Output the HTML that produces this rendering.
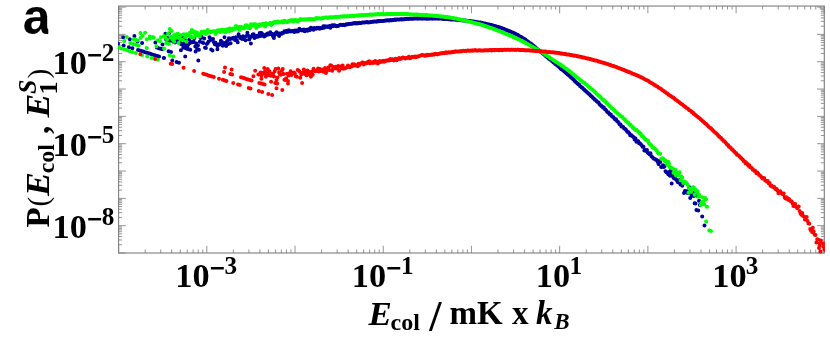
<!DOCTYPE html>
<html><head><meta charset="utf-8"><title>Collision energy distribution</title>
<style>html,body{margin:0;padding:0;background:#fff;}body{width:830px;height:342px;overflow:hidden;font-family:"Liberation Serif",serif;}svg text{fill:#000;}</style></head>
<body>
<svg width="830" height="342" viewBox="0 0 830 342" style="display:block;will-change:transform"><path d="M118.60 253.00v-7.20M118.60 6.05v7.20M145.15 253.00v-3.50M145.15 6.05v3.50M160.69 253.00v-3.50M160.69 6.05v3.50M171.71 253.00v-3.50M171.71 6.05v3.50M180.26 253.00v-3.50M180.26 6.05v3.50M187.24 253.00v-3.50M187.24 6.05v3.50M193.15 253.00v-3.50M193.15 6.05v3.50M198.26 253.00v-3.50M198.26 6.05v3.50M202.78 253.00v-3.50M202.78 6.05v3.50M206.81 253.00v-7.20M206.81 6.05v7.20M233.37 253.00v-3.50M233.37 6.05v3.50M248.90 253.00v-3.50M248.90 6.05v3.50M259.92 253.00v-3.50M259.92 6.05v3.50M268.47 253.00v-3.50M268.47 6.05v3.50M275.46 253.00v-3.50M275.46 6.05v3.50M281.36 253.00v-3.50M281.36 6.05v3.50M286.48 253.00v-3.50M286.48 6.05v3.50M290.99 253.00v-3.50M290.99 6.05v3.50M295.02 253.00v-7.20M295.02 6.05v7.20M321.58 253.00v-3.50M321.58 6.05v3.50M337.11 253.00v-3.50M337.11 6.05v3.50M348.13 253.00v-3.50M348.13 6.05v3.50M356.68 253.00v-3.50M356.68 6.05v3.50M363.67 253.00v-3.50M363.67 6.05v3.50M369.57 253.00v-3.50M369.57 6.05v3.50M374.69 253.00v-3.50M374.69 6.05v3.50M379.20 253.00v-3.50M379.20 6.05v3.50M383.24 253.00v-7.20M383.24 6.05v7.20M409.79 253.00v-3.50M409.79 6.05v3.50M425.33 253.00v-3.50M425.33 6.05v3.50M436.35 253.00v-3.50M436.35 6.05v3.50M444.90 253.00v-3.50M444.90 6.05v3.50M451.88 253.00v-3.50M451.88 6.05v3.50M457.79 253.00v-3.50M457.79 6.05v3.50M462.90 253.00v-3.50M462.90 6.05v3.50M467.41 253.00v-3.50M467.41 6.05v3.50M471.45 253.00v-7.20M471.45 6.05v7.20M498.00 253.00v-3.50M498.00 6.05v3.50M513.54 253.00v-3.50M513.54 6.05v3.50M524.56 253.00v-3.50M524.56 6.05v3.50M533.11 253.00v-3.50M533.11 6.05v3.50M540.09 253.00v-3.50M540.09 6.05v3.50M546.00 253.00v-3.50M546.00 6.05v3.50M551.11 253.00v-3.50M551.11 6.05v3.50M555.63 253.00v-3.50M555.63 6.05v3.50M559.66 253.00v-7.20M559.66 6.05v7.20M586.22 253.00v-3.50M586.22 6.05v3.50M601.75 253.00v-3.50M601.75 6.05v3.50M612.77 253.00v-3.50M612.77 6.05v3.50M621.32 253.00v-3.50M621.32 6.05v3.50M628.31 253.00v-3.50M628.31 6.05v3.50M634.21 253.00v-3.50M634.21 6.05v3.50M639.33 253.00v-3.50M639.33 6.05v3.50M643.84 253.00v-3.50M643.84 6.05v3.50M647.88 253.00v-7.20M647.88 6.05v7.20M674.43 253.00v-3.50M674.43 6.05v3.50M689.96 253.00v-3.50M689.96 6.05v3.50M700.98 253.00v-3.50M700.98 6.05v3.50M709.53 253.00v-3.50M709.53 6.05v3.50M716.52 253.00v-3.50M716.52 6.05v3.50M722.42 253.00v-3.50M722.42 6.05v3.50M727.54 253.00v-3.50M727.54 6.05v3.50M732.05 253.00v-3.50M732.05 6.05v3.50M736.09 253.00v-7.20M736.09 6.05v7.20M762.64 253.00v-3.50M762.64 6.05v3.50M778.18 253.00v-3.50M778.18 6.05v3.50M789.20 253.00v-3.50M789.20 6.05v3.50M797.75 253.00v-3.50M797.75 6.05v3.50M804.73 253.00v-3.50M804.73 6.05v3.50M810.64 253.00v-3.50M810.64 6.05v3.50M815.75 253.00v-3.50M815.75 6.05v3.50M820.26 253.00v-3.50M820.26 6.05v3.50M824.30 253.00v-7.20M824.30 6.05v7.20M118.60 253.00h7.20M824.30 253.00h-7.20M118.60 244.77h3.50M824.30 244.77h-3.50M118.60 239.96h3.50M824.30 239.96h-3.50M118.60 236.55h3.50M824.30 236.55h-3.50M118.60 233.90h3.50M824.30 233.90h-3.50M118.60 231.74h3.50M824.30 231.74h-3.50M118.60 229.91h3.50M824.30 229.91h-3.50M118.60 228.32h3.50M824.30 228.32h-3.50M118.60 226.92h3.50M824.30 226.92h-3.50M118.60 225.67h7.20M824.30 225.67h-7.20M118.60 217.45h3.50M824.30 217.45h-3.50M118.60 212.64h3.50M824.30 212.64h-3.50M118.60 209.22h3.50M824.30 209.22h-3.50M118.60 206.57h3.50M824.30 206.57h-3.50M118.60 204.41h3.50M824.30 204.41h-3.50M118.60 202.58h3.50M824.30 202.58h-3.50M118.60 200.99h3.50M824.30 200.99h-3.50M118.60 199.60h3.50M824.30 199.60h-3.50M118.60 198.35h7.20M824.30 198.35h-7.20M118.60 190.12h3.50M824.30 190.12h-3.50M118.60 185.31h3.50M824.30 185.31h-3.50M118.60 181.89h3.50M824.30 181.89h-3.50M118.60 179.25h3.50M824.30 179.25h-3.50M118.60 177.08h3.50M824.30 177.08h-3.50M118.60 175.25h3.50M824.30 175.25h-3.50M118.60 173.67h3.50M824.30 173.67h-3.50M118.60 172.27h3.50M824.30 172.27h-3.50M118.60 171.02h7.20M824.30 171.02h-7.20M118.60 162.79h3.50M824.30 162.79h-3.50M118.60 157.98h3.50M824.30 157.98h-3.50M118.60 154.57h3.50M824.30 154.57h-3.50M118.60 151.92h3.50M824.30 151.92h-3.50M118.60 149.76h3.50M824.30 149.76h-3.50M118.60 147.93h3.50M824.30 147.93h-3.50M118.60 146.34h3.50M824.30 146.34h-3.50M118.60 144.94h3.50M824.30 144.94h-3.50M118.60 143.69h7.20M824.30 143.69h-7.20M118.60 135.47h3.50M824.30 135.47h-3.50M118.60 130.66h3.50M824.30 130.66h-3.50M118.60 127.24h3.50M824.30 127.24h-3.50M118.60 124.59h3.50M824.30 124.59h-3.50M118.60 122.43h3.50M824.30 122.43h-3.50M118.60 120.60h3.50M824.30 120.60h-3.50M118.60 119.01h3.50M824.30 119.01h-3.50M118.60 117.62h3.50M824.30 117.62h-3.50M118.60 116.37h7.20M824.30 116.37h-7.20M118.60 108.14h3.50M824.30 108.14h-3.50M118.60 103.33h3.50M824.30 103.33h-3.50M118.60 99.91h3.50M824.30 99.91h-3.50M118.60 97.27h3.50M824.30 97.27h-3.50M118.60 95.10h3.50M824.30 95.10h-3.50M118.60 93.27h3.50M824.30 93.27h-3.50M118.60 91.69h3.50M824.30 91.69h-3.50M118.60 90.29h3.50M824.30 90.29h-3.50M118.60 89.04h7.20M824.30 89.04h-7.20M118.60 80.81h3.50M824.30 80.81h-3.50M118.60 76.00h3.50M824.30 76.00h-3.50M118.60 72.59h3.50M824.30 72.59h-3.50M118.60 69.94h3.50M824.30 69.94h-3.50M118.60 67.78h3.50M824.30 67.78h-3.50M118.60 65.95h3.50M824.30 65.95h-3.50M118.60 64.36h3.50M824.30 64.36h-3.50M118.60 62.96h3.50M824.30 62.96h-3.50M118.60 61.71h7.20M824.30 61.71h-7.20M118.60 53.49h3.50M824.30 53.49h-3.50M118.60 48.68h3.50M824.30 48.68h-3.50M118.60 45.26h3.50M824.30 45.26h-3.50M118.60 42.61h3.50M824.30 42.61h-3.50M118.60 40.45h3.50M824.30 40.45h-3.50M118.60 38.62h3.50M824.30 38.62h-3.50M118.60 37.03h3.50M824.30 37.03h-3.50M118.60 35.64h3.50M824.30 35.64h-3.50M118.60 34.39h7.20M824.30 34.39h-7.20M118.60 26.16h3.50M824.30 26.16h-3.50M118.60 21.35h3.50M824.30 21.35h-3.50M118.60 17.93h3.50M824.30 17.93h-3.50M118.60 15.29h3.50M824.30 15.29h-3.50M118.60 13.12h3.50M824.30 13.12h-3.50M118.60 11.29h3.50M824.30 11.29h-3.50M118.60 9.71h3.50M824.30 9.71h-3.50M118.60 8.31h3.50M824.30 8.31h-3.50M118.60 7.06h7.20M824.30 7.06h-7.20" stroke="#707070" stroke-width="0.75" fill="none"/>
<rect x="118.60" y="6.05" width="705.70" height="246.95" fill="none" stroke="#7e7e7e" stroke-width="1.1"/>
<clipPath id="c"><rect x="118.1" y="6.05" width="706.8" height="247.64999999999998"/></clipPath>
<g clip-path="url(#c)">
<path d="M165.4 33.8h0M166.2 39.7h0M167.1 37.8h0M168.0 40.2h0M168.9 33.5h0M169.8 40.7h0M170.6 38.9h0M171.5 37.3h0M172.4 39.4h0M173.3 41.8h0M174.2 36.5h0M175.1 42.4h0M175.9 37.1h0M176.8 40.8h0M177.7 39.2h0M178.6 39.5h0M179.5 36.8h0M180.3 41.9h0M181.2 44.3h0M182.1 36.3h0M183.0 44.8h0M183.9 43.0h0M184.8 39.8h0M185.6 45.7h0M186.5 43.8h0M187.4 46.2h0M188.3 44.3h0M189.2 39.8h0M190.1 43.0h0M190.9 36.9h0M191.8 42.0h0M192.7 42.3h0M193.6 41.2h0M194.5 38.0h0M195.3 46.5h0M196.2 43.4h0M197.1 49.2h0M198.0 45.5h0M198.9 49.8h0M199.8 41.8h0M200.6 38.1h0M201.5 36.8h0M202.4 42.6h0M203.3 42.9h0M204.2 38.4h0M205.0 47.7h0M205.9 48.0h0M206.8 44.0h0M207.7 43.1h0M208.6 41.4h0M209.5 37.2h0M210.3 40.3h0M211.2 49.6h0M212.1 39.3h0M213.0 38.9h0M213.9 42.2h0M214.8 44.3h0M215.6 42.7h0M216.5 44.8h0M217.4 46.1h0M218.3 44.4h0M219.2 44.7h0M220.0 44.1h0M220.9 40.8h0M221.8 41.7h0M222.7 45.8h0M223.6 43.6h0M224.5 37.2h0M225.3 42.8h0M226.2 46.0h0M227.1 40.9h0M228.0 44.3h0M228.9 38.2h0M229.7 39.3h0M230.6 43.2h0M231.5 38.6h0M232.4 38.5h0M233.3 37.7h0M234.2 38.3h0M235.0 40.1h0M235.9 37.2h0M236.8 40.3h0M237.7 42.2h0M238.6 34.3h0M239.5 36.5h0M240.3 37.9h0M241.2 37.9h0M242.1 39.1h0M243.0 36.3h0M243.9 38.4h0M244.7 39.6h0M245.6 40.2h0M246.5 36.1h0M247.4 32.7h0M248.3 35.8h0M249.2 39.5h0M250.0 38.1h0M250.9 43.5h0M251.8 36.1h0M252.7 34.5h0M253.6 34.3h0M254.4 38.1h0M255.3 36.8h0M256.2 36.9h0M257.1 35.7h0M258.0 36.8h0M258.9 35.9h0M259.7 33.1h0M260.6 36.1h0M261.5 33.0h0M262.4 34.0h0M263.3 35.8h0M264.2 36.6h0M265.0 35.1h0M265.9 35.6h0M266.8 34.1h0M267.7 33.6h0M268.6 34.6h0M269.4 34.2h0M270.3 32.2h0M271.2 34.0h0M272.1 33.8h0M273.0 36.3h0M273.9 37.9h0M274.7 35.0h0M275.6 33.3h0M276.5 32.2h0M277.4 33.9h0M278.3 33.6h0M279.1 36.0h0M280.0 33.5h0M280.9 33.8h0M281.8 33.8h0M282.7 32.7h0M283.6 32.8h0M284.4 31.3h0M285.3 31.2h0M286.2 32.0h0M287.1 30.7h0M288.0 31.8h0M288.9 30.2h0M289.7 31.3h0M290.6 31.6h0M291.5 31.3h0M292.4 31.0h0M293.3 31.3h0M294.1 32.1h0M295.0 30.6h0M295.9 31.5h0M296.8 30.6h0M297.7 31.5h0M298.6 30.7h0M299.4 28.7h0M300.3 30.1h0M301.2 30.1h0M302.1 30.6h0M303.0 29.9h0M303.8 29.5h0M304.7 31.2h0M305.6 30.1h0M306.5 29.8h0M307.4 30.8h0M308.3 30.6h0M309.1 28.9h0M310.0 30.1h0M310.9 27.7h0M311.8 28.6h0M312.7 28.6h0M313.5 29.7h0M314.4 28.0h0M315.3 28.4h0M316.2 28.8h0M317.1 27.7h0M318.0 28.3h0M318.8 27.8h0M319.7 28.8h0M320.6 27.9h0M321.5 28.1h0M322.4 28.0h0M323.3 26.3h0M324.1 27.8h0M325.0 26.3h0M325.9 26.8h0M326.8 26.6h0M327.7 27.0h0M328.5 26.4h0M329.4 25.9h0M330.3 27.7h0M331.2 26.1h0M332.1 25.2h0M333.0 26.2h0M333.8 25.3h0M334.7 25.3h0M335.6 26.0h0M336.5 26.2h0M337.4 26.0h0M338.2 26.0h0M339.1 25.6h0M340.0 24.9h0M340.9 24.8h0M341.8 24.9h0M342.7 25.1h0M343.5 24.8h0M344.4 25.2h0M345.3 24.9h0M346.2 24.2h0M347.1 24.2h0M348.0 24.3h0M348.8 24.1h0M349.7 23.9h0M350.6 23.7h0M351.5 23.8h0M352.4 23.7h0M353.2 23.5h0M354.1 23.1h0M355.0 23.5h0M355.9 23.1h0M356.8 23.5h0M357.7 23.0h0M358.5 23.2h0M359.4 22.8h0M360.3 22.9h0M361.2 23.0h0M362.1 22.4h0M362.9 22.5h0M363.8 22.5h0M364.7 22.6h0M365.6 22.3h0M366.5 22.2h0M367.4 22.0h0M368.2 22.4h0M369.1 22.2h0M370.0 22.2h0M370.9 21.9h0M371.8 22.0h0M372.7 21.8h0M373.5 21.8h0M374.4 21.6h0M375.3 21.4h0M376.2 21.7h0M377.1 21.4h0M377.9 21.1h0M378.8 21.2h0M379.7 21.1h0M380.6 20.9h0M381.5 21.0h0M382.4 21.0h0M383.2 21.0h0M384.1 20.8h0M385.0 20.8h0M385.9 20.6h0M386.8 20.6h0M387.6 20.3h0M388.5 20.5h0M389.4 20.5h0M390.3 20.1h0M391.2 20.3h0M392.1 20.2h0M392.9 19.9h0M393.8 20.1h0M394.7 19.6h0M395.6 19.9h0M396.5 19.5h0M397.4 19.5h0M398.2 19.6h0M399.1 19.6h0M400.0 19.6h0M400.9 19.3h0M401.8 19.5h0M402.6 19.2h0M403.5 19.2h0M404.4 19.2h0M405.3 19.0h0M406.2 19.1h0M407.1 18.9h0M407.9 18.7h0M408.8 19.0h0M409.7 18.8h0M410.6 18.7h0M411.5 18.8h0M412.3 18.8h0M413.2 18.7h0M414.1 18.6h0M415.0 18.6h0M415.9 18.6h0M416.8 18.5h0M417.6 18.7h0M418.5 18.5h0M419.4 18.6h0M420.3 18.6h0M421.2 18.6h0M422.1 18.7h0M422.9 18.4h0M423.8 18.6h0M424.7 18.6h0M425.6 18.4h0M426.5 18.7h0M427.3 18.7h0M428.2 18.5h0M429.1 18.7h0M430.0 18.6h0M430.9 18.6h0M431.8 18.5h0M432.6 18.7h0M433.5 18.5h0M434.4 18.6h0M435.3 18.6h0M436.2 18.6h0M437.0 18.6h0M437.9 18.6h0M438.8 18.8h0M439.7 18.6h0M440.6 18.6h0M441.5 18.7h0M442.3 18.7h0M443.2 18.9h0M444.1 19.0h0M445.0 19.0h0M445.9 18.9h0M446.8 19.1h0M447.6 19.1h0M448.5 19.2h0M449.4 19.2h0M450.3 19.4h0M451.2 19.4h0M452.0 19.4h0M452.9 19.6h0M453.8 19.6h0M454.7 19.6h0M455.6 19.7h0M456.5 19.8h0M457.3 19.9h0M458.2 20.0h0M459.1 20.0h0M460.0 20.1h0M460.9 20.2h0M461.7 20.2h0M462.6 20.4h0M463.5 20.5h0M464.4 20.6h0M465.3 20.6h0M466.2 20.8h0M467.0 20.8h0M467.9 20.9h0M468.8 21.0h0M469.7 21.1h0M470.6 21.2h0M471.5 21.3h0M472.3 21.5h0M473.2 21.6h0M474.1 21.7h0M475.0 21.8h0M475.9 21.9h0M476.7 22.2h0M477.6 22.2h0M478.5 22.5h0M479.4 22.6h0M480.3 22.6h0M481.2 22.8h0M482.0 23.0h0M482.9 23.3h0M483.8 23.4h0M484.7 23.6h0M485.6 23.8h0M486.4 23.9h0M487.3 24.2h0M488.2 24.4h0M489.1 24.6h0M490.0 24.7h0M490.9 25.1h0M491.7 25.2h0M492.6 25.5h0M493.5 25.7h0M494.4 25.9h0M495.3 26.2h0M496.1 26.5h0M497.0 26.7h0M497.9 27.0h0M498.8 27.2h0M499.7 27.4h0M500.6 27.8h0M501.4 28.1h0M502.3 28.4h0M503.2 28.7h0M504.1 29.1h0M505.0 29.5h0M505.9 29.9h0M506.7 30.1h0M507.6 30.5h0M508.5 30.9h0M509.4 31.3h0M510.3 31.6h0M511.1 31.9h0M512.0 32.2h0M512.9 32.7h0M513.8 33.1h0M514.7 33.5h0M515.6 34.0h0M516.4 34.4h0M517.3 34.8h0M518.2 35.3h0M519.1 35.9h0M520.0 36.4h0M520.8 36.9h0M521.7 37.3h0M522.6 37.9h0M523.5 38.5h0M524.4 39.0h0M525.3 39.6h0M526.1 40.3h0M527.0 40.9h0M527.9 41.4h0M528.8 42.2h0M529.7 42.9h0M530.6 43.6h0M531.4 44.1h0M532.3 44.7h0M533.2 45.4h0M534.1 46.2h0M535.0 46.9h0M535.8 47.7h0M536.7 48.4h0M537.6 49.2h0M538.5 50.0h0M539.4 50.7h0M540.3 51.5h0M541.1 52.1h0M542.0 52.8h0M542.9 53.6h0M543.8 54.3h0M544.7 55.0h0M545.5 55.8h0M546.4 56.5h0M547.3 57.3h0M548.2 58.0h0M549.1 58.9h0M550.0 59.4h0M550.8 60.1h0M551.7 60.8h0M552.6 61.6h0M553.5 62.4h0M554.4 63.0h0M555.3 63.9h0M556.1 64.6h0M557.0 65.3h0M557.9 66.1h0M558.8 66.7h0M559.7 67.5h0M560.5 68.5h0M561.4 69.3h0M562.3 69.8h0M563.2 70.4h0M564.1 71.2h0M565.0 72.0h0M565.8 72.7h0M566.7 73.5h0M567.6 74.5h0M568.5 75.0h0M569.4 75.8h0M570.2 76.6h0M571.1 77.4h0M572.0 78.2h0M572.9 79.0h0M573.8 79.7h0M574.7 81.1h0M575.5 81.7h0M576.4 82.5h0M577.3 83.2h0M578.2 84.3h0M579.1 84.5h0M580.0 86.1h0M580.8 86.6h0M581.7 87.6h0M582.6 88.1h0M583.5 89.1h0M584.4 89.7h0M585.2 90.7h0M586.1 91.2h0M587.0 92.3h0M587.9 93.1h0M588.8 93.7h0M589.7 94.5h0M590.5 95.5h0M591.4 96.2h0M592.3 97.1h0M593.2 98.0h0M594.1 98.7h0M594.9 99.8h0M595.8 100.3h0M596.7 101.3h0M597.6 102.0h0M598.5 102.4h0M599.4 103.9h0M600.2 105.0h0M601.1 105.4h0M602.0 106.4h0M602.9 107.5h0M603.8 107.5h0M604.7 108.9h0M605.5 109.6h0M606.4 110.7h0M607.3 112.0h0M608.2 112.2h0M609.1 113.5h0M609.9 114.6h0M610.8 114.6h0M611.7 116.1h0M612.6 116.8h0M613.5 117.2h0M614.4 118.8h0M615.2 119.5h0M616.1 119.3h0M617.0 120.9h0M617.9 121.7h0M618.8 122.9h0M619.6 124.3h0M620.5 124.6h0M621.4 126.5h0M622.3 126.4h0M623.2 127.1h0M624.1 128.5h0M624.9 128.8h0M625.8 129.6h0M626.7 131.1h0M627.6 132.0h0M628.5 132.2h0M629.4 133.5h0M630.2 135.3h0M631.1 135.0h0M632.0 136.0h0M632.9 136.4h0M633.8 137.5h0M634.6 139.4h0M635.5 138.4h0M636.4 141.8h0M637.3 140.9h0M638.2 141.2h0M639.1 143.3h0M639.9 143.3h0M640.8 144.3h0M641.7 145.2h0M642.6 146.7h0M643.5 146.7h0M644.3 150.5h0M645.2 150.0h0M646.1 151.1h0M647.0 149.9h0M647.9 152.7h0M648.8 153.5h0M649.6 154.3h0M650.5 153.2h0M651.4 156.3h0M652.3 156.9h0M653.2 157.9h0M654.0 158.8h0M654.9 158.9h0M655.8 159.7h0M656.7 159.9h0M657.6 161.8h0M658.5 163.9h0M659.3 161.1h0M660.2 162.1h0M661.1 166.9h0M662.0 166.9h0M662.9 165.3h0M663.8 166.9h0M664.6 166.3h0M665.5 171.2h0M666.4 172.2h0M667.3 172.8h0M668.2 174.3h0M669.0 172.0h0M669.9 175.7h0M670.8 170.7h0M671.7 172.5h0M672.6 176.1h0M673.5 177.7h0M674.3 178.4h0M675.2 178.2h0M676.1 179.5h0M677.0 180.8h0M677.9 182.3h0M678.7 182.6h0M679.6 180.1h0M680.5 184.4h0M681.4 183.4h0M682.3 185.7h0M683.2 183.3h0M684.0 193.1h0M684.9 191.0h0M685.8 191.3h0M686.7 191.5h0M687.6 192.9h0M688.5 191.0h0M689.3 187.2h0M690.2 198.0h0M691.1 194.0h0M692.0 195.5h0M692.9 192.4h0M693.7 196.1h0M694.6 203.3h0M695.5 203.6h0M696.4 210.0h0M697.3 195.9h0M698.2 210.5h0M699.0 200.7h0M699.9 205.0h0M118.0 43.8h0M123.7 45.6h0M128.8 47.2h0M132.4 48.3h0M138.0 50.0h0M139.8 50.6h0M141.5 51.1h0M143.3 51.6h0M145.0 52.2h0M146.8 52.7h0M148.6 53.3h0M150.3 53.8h0M152.1 54.4h0M153.8 54.9h0M155.6 55.5h0M157.4 56.0h0M159.1 56.6h0M164.1 58.1h0M163.7 58.0h0M172.3 60.6h0M176.6 62.0h0M179.0 62.7h0M704.5 225.5h0M123.2 37.2h0M129.8 39.2h0M137.5 41.6h0M142.1 43.1h0M156.9 47.6h0M158.7 48.2h0M160.4 48.7h0M162.2 49.3h0M161.2 49.0h0M168.6 51.3h0M171.0 52.0h0M185.2 56.4h0M198.3 60.5h0M702.2 216.6h0M134.4 35.9h0M155.4 42.4h0M162.5 44.6h0M180.9 50.3h0M183.3 47.6h0M185.1 48.1h0M186.8 48.7h0M188.6 49.2h0M190.3 49.8h0M195.6 51.4h0M671.7 183.4h0M212.5 50.4h0M217.4 49.2h0" stroke="#00009c" stroke-width="4.0" stroke-linecap="round" fill="none"/>
<path d="M165.4 37.4h0M166.2 43.3h0M167.1 39.5h0M168.0 33.4h0M168.9 44.1h0M169.8 29.1h0M170.6 37.6h0M171.5 31.1h0M172.4 39.6h0M173.3 36.1h0M174.2 41.7h0M175.1 34.6h0M175.9 38.0h0M176.8 36.1h0M177.7 33.8h0M178.6 43.1h0M179.5 38.0h0M180.3 39.4h0M181.2 34.9h0M182.1 39.9h0M183.0 40.2h0M183.9 34.2h0M184.8 35.2h0M185.6 37.0h0M186.5 34.3h0M187.4 35.3h0M188.3 34.2h0M189.2 35.8h0M190.1 32.5h0M190.9 37.1h0M191.8 29.9h0M192.7 32.4h0M193.6 37.2h0M194.5 31.6h0M195.3 34.7h0M196.2 35.0h0M197.1 32.4h0M198.0 35.5h0M198.9 34.8h0M199.8 36.6h0M200.6 33.9h0M201.5 31.8h0M202.4 32.8h0M203.3 32.7h0M204.2 31.6h0M205.0 32.2h0M205.9 33.9h0M206.8 30.9h0M207.7 30.0h0M208.6 32.6h0M209.5 32.6h0M210.3 31.9h0M211.2 31.9h0M212.1 31.4h0M213.0 31.4h0M213.9 31.2h0M214.8 31.2h0M215.6 33.9h0M216.5 31.7h0M217.4 30.4h0M218.3 30.5h0M219.2 30.2h0M220.0 32.1h0M220.9 30.3h0M221.8 29.7h0M222.7 31.5h0M223.6 30.2h0M224.5 30.1h0M225.3 32.3h0M226.2 29.7h0M227.1 29.2h0M228.0 30.4h0M228.9 31.2h0M229.7 28.5h0M230.6 29.9h0M231.5 30.4h0M232.4 28.7h0M233.3 29.1h0M234.2 28.3h0M235.0 29.0h0M235.9 26.1h0M236.8 28.4h0M237.7 27.7h0M238.6 27.1h0M239.5 30.0h0M240.3 26.7h0M241.2 28.0h0M242.1 27.8h0M243.0 27.3h0M243.9 28.6h0M244.7 27.8h0M245.6 25.4h0M246.5 25.3h0M247.4 26.4h0M248.3 28.1h0M249.2 26.0h0M250.0 28.3h0M250.9 24.2h0M251.8 25.0h0M252.7 25.8h0M253.6 24.3h0M254.4 24.9h0M255.3 24.3h0M256.2 27.9h0M257.1 26.4h0M258.0 26.2h0M258.9 24.6h0M259.7 25.7h0M260.6 24.6h0M261.5 25.0h0M262.4 24.1h0M263.3 24.1h0M264.2 24.2h0M265.0 26.5h0M265.9 23.2h0M266.8 24.7h0M267.7 24.2h0M268.6 23.9h0M269.4 23.3h0M270.3 22.9h0M271.2 25.0h0M272.1 24.3h0M273.0 22.6h0M273.9 22.7h0M274.7 22.1h0M275.6 22.7h0M276.5 22.1h0M277.4 22.7h0M278.3 21.6h0M279.1 21.9h0M280.0 22.4h0M280.9 22.2h0M281.8 21.3h0M282.7 21.8h0M283.6 22.5h0M284.4 20.7h0M285.3 21.8h0M286.2 21.6h0M287.1 22.3h0M288.0 21.2h0M288.9 21.4h0M289.7 20.6h0M290.6 20.7h0M291.5 19.9h0M292.4 21.0h0M293.3 21.5h0M294.1 19.9h0M295.0 20.7h0M295.9 20.0h0M296.8 20.5h0M297.7 21.6h0M298.6 20.4h0M299.4 20.3h0M300.3 19.1h0M301.2 19.8h0M302.1 19.6h0M303.0 19.4h0M303.8 19.7h0M304.7 19.2h0M305.6 19.5h0M306.5 19.5h0M307.4 19.2h0M308.3 19.4h0M309.1 19.2h0M310.0 18.9h0M310.9 19.5h0M311.8 19.1h0M312.7 18.9h0M313.5 19.4h0M314.4 19.4h0M315.3 19.0h0M316.2 18.1h0M317.1 18.3h0M318.0 18.2h0M318.8 18.3h0M319.7 18.2h0M320.6 18.7h0M321.5 18.4h0M322.4 18.0h0M323.3 18.0h0M324.1 17.9h0M325.0 17.6h0M325.9 17.4h0M326.8 17.6h0M327.7 18.1h0M328.5 17.6h0M329.4 17.6h0M330.3 17.2h0M331.2 17.2h0M332.1 17.4h0M333.0 17.2h0M333.8 17.2h0M334.7 17.3h0M335.6 16.8h0M336.5 17.2h0M337.4 17.3h0M338.2 17.1h0M339.1 16.8h0M340.0 16.7h0M340.9 16.6h0M341.8 16.6h0M342.7 16.5h0M343.5 16.3h0M344.4 16.4h0M345.3 16.2h0M346.2 16.3h0M347.1 16.4h0M348.0 16.3h0M348.8 16.4h0M349.7 16.0h0M350.6 16.0h0M351.5 16.0h0M352.4 16.0h0M353.2 15.9h0M354.1 16.2h0M355.0 15.7h0M355.9 15.8h0M356.8 15.4h0M357.7 15.4h0M358.5 15.4h0M359.4 15.3h0M360.3 15.2h0M361.2 15.3h0M362.1 15.0h0M362.9 15.3h0M363.8 15.2h0M364.7 15.0h0M365.6 15.1h0M366.5 14.8h0M367.4 14.9h0M368.2 14.9h0M369.1 14.7h0M370.0 14.6h0M370.9 14.6h0M371.8 14.9h0M372.7 14.6h0M373.5 14.6h0M374.4 14.5h0M375.3 14.4h0M376.2 14.3h0M377.1 14.3h0M377.9 14.1h0M378.8 14.2h0M379.7 14.3h0M380.6 14.3h0M381.5 14.1h0M382.4 14.2h0M383.2 14.3h0M384.1 14.2h0M385.0 14.2h0M385.9 14.2h0M386.8 14.1h0M387.6 14.1h0M388.5 14.1h0M389.4 14.1h0M390.3 14.1h0M391.2 14.2h0M392.1 14.1h0M392.9 14.1h0M393.8 13.9h0M394.7 14.1h0M395.6 14.1h0M396.5 14.0h0M397.4 14.1h0M398.2 14.0h0M399.1 14.1h0M400.0 13.9h0M400.9 14.0h0M401.8 14.0h0M402.6 13.9h0M403.5 14.2h0M404.4 14.1h0M405.3 14.0h0M406.2 14.2h0M407.1 14.1h0M407.9 14.2h0M408.8 14.2h0M409.7 14.3h0M410.6 14.4h0M411.5 14.4h0M412.3 14.5h0M413.2 14.5h0M414.1 14.6h0M415.0 14.6h0M415.9 14.6h0M416.8 14.6h0M417.6 14.7h0M418.5 14.8h0M419.4 14.7h0M420.3 14.9h0M421.2 14.9h0M422.1 14.9h0M422.9 15.0h0M423.8 15.1h0M424.7 15.2h0M425.6 15.2h0M426.5 15.1h0M427.3 15.3h0M428.2 15.3h0M429.1 15.4h0M430.0 15.4h0M430.9 15.5h0M431.8 15.6h0M432.6 15.7h0M433.5 15.8h0M434.4 15.7h0M435.3 15.9h0M436.2 16.0h0M437.0 16.0h0M437.9 16.1h0M438.8 16.2h0M439.7 16.2h0M440.6 16.4h0M441.5 16.4h0M442.3 16.6h0M443.2 16.7h0M444.1 16.7h0M445.0 17.0h0M445.9 17.0h0M446.8 17.1h0M447.6 17.3h0M448.5 17.3h0M449.4 17.5h0M450.3 17.7h0M451.2 17.8h0M452.0 18.0h0M452.9 18.1h0M453.8 18.2h0M454.7 18.4h0M455.6 18.6h0M456.5 18.7h0M457.3 19.0h0M458.2 19.2h0M459.1 19.3h0M460.0 19.5h0M460.9 19.7h0M461.7 19.9h0M462.6 20.0h0M463.5 20.4h0M464.4 20.5h0M465.3 20.6h0M466.2 20.9h0M467.0 21.1h0M467.9 21.4h0M468.8 21.6h0M469.7 21.8h0M470.6 22.0h0M471.5 22.2h0M472.3 22.5h0M473.2 22.7h0M474.1 22.9h0M475.0 23.2h0M475.9 23.3h0M476.7 23.5h0M477.6 23.9h0M478.5 24.0h0M479.4 24.3h0M480.3 24.6h0M481.2 24.8h0M482.0 25.1h0M482.9 25.3h0M483.8 25.6h0M484.7 25.9h0M485.6 26.2h0M486.4 26.4h0M487.3 26.8h0M488.2 27.1h0M489.1 27.4h0M490.0 27.7h0M490.9 28.0h0M491.7 28.3h0M492.6 28.6h0M493.5 29.0h0M494.4 29.3h0M495.3 29.6h0M496.1 30.0h0M497.0 30.3h0M497.9 30.7h0M498.8 31.0h0M499.7 31.3h0M500.6 31.7h0M501.4 32.1h0M502.3 32.4h0M503.2 32.8h0M504.1 33.1h0M505.0 33.5h0M505.9 33.9h0M506.7 34.3h0M507.6 34.6h0M508.5 34.9h0M509.4 35.4h0M510.3 35.8h0M511.1 36.1h0M512.0 36.5h0M512.9 36.9h0M513.8 37.2h0M514.7 37.6h0M515.6 38.2h0M516.4 38.4h0M517.3 38.8h0M518.2 39.2h0M519.1 39.6h0M520.0 40.0h0M520.8 40.5h0M521.7 41.0h0M522.6 41.3h0M523.5 41.8h0M524.4 42.3h0M525.3 42.7h0M526.1 43.4h0M527.0 43.7h0M527.9 44.2h0M528.8 44.8h0M529.7 45.3h0M530.6 45.7h0M531.4 46.3h0M532.3 46.7h0M533.2 47.2h0M534.1 47.7h0M535.0 48.2h0M535.8 48.7h0M536.7 49.2h0M537.6 49.6h0M538.5 50.2h0M539.4 50.8h0M540.3 51.1h0M541.1 51.7h0M542.0 52.2h0M542.9 52.8h0M543.8 53.5h0M544.7 54.1h0M545.5 54.7h0M546.4 55.3h0M547.3 55.9h0M548.2 56.6h0M549.1 57.1h0M550.0 57.9h0M550.8 58.6h0M551.7 59.1h0M552.6 59.6h0M553.5 60.3h0M554.4 60.8h0M555.3 61.4h0M556.1 61.9h0M557.0 62.6h0M557.9 63.1h0M558.8 63.7h0M559.7 64.2h0M560.5 64.6h0M561.4 65.4h0M562.3 66.0h0M563.2 66.4h0M564.1 67.3h0M565.0 68.0h0M565.8 68.6h0M566.7 69.0h0M567.6 69.8h0M568.5 70.5h0M569.4 71.0h0M570.2 71.8h0M571.1 72.3h0M572.0 73.2h0M572.9 73.9h0M573.8 74.6h0M574.7 75.3h0M575.5 76.3h0M576.4 76.9h0M577.3 77.7h0M578.2 78.2h0M579.1 79.1h0M580.0 79.8h0M580.8 80.5h0M581.7 81.1h0M582.6 81.7h0M583.5 82.4h0M584.4 83.1h0M585.2 83.8h0M586.1 84.5h0M587.0 85.2h0M587.9 86.0h0M588.8 86.7h0M589.7 87.4h0M590.5 88.2h0M591.4 88.9h0M592.3 89.6h0M593.2 90.3h0M594.1 91.1h0M594.9 91.9h0M595.8 92.7h0M596.7 93.9h0M597.6 94.7h0M598.5 95.5h0M599.4 96.0h0M600.2 96.7h0M601.1 98.1h0M602.0 99.0h0M602.9 99.8h0M603.8 100.1h0M604.7 101.1h0M605.5 101.8h0M606.4 102.8h0M607.3 103.5h0M608.2 104.4h0M609.1 105.5h0M609.9 106.4h0M610.8 107.0h0M611.7 108.2h0M612.6 108.7h0M613.5 109.5h0M614.4 110.3h0M615.2 111.6h0M616.1 111.9h0M617.0 113.0h0M617.9 113.6h0M618.8 114.3h0M619.6 115.1h0M620.5 115.9h0M621.4 116.5h0M622.3 117.1h0M623.2 118.3h0M624.1 118.9h0M624.9 119.5h0M625.8 121.1h0M626.7 121.6h0M627.6 122.4h0M628.5 123.0h0M629.4 124.5h0M630.2 124.5h0M631.1 125.7h0M632.0 126.3h0M632.9 127.9h0M633.8 128.0h0M634.6 128.9h0M635.5 129.9h0M636.4 129.8h0M637.3 130.7h0M638.2 131.7h0M639.1 132.2h0M639.9 133.4h0M640.8 133.7h0M641.7 136.0h0M642.6 135.9h0M643.5 137.1h0M644.3 138.1h0M645.2 139.5h0M646.1 139.8h0M647.0 140.6h0M647.9 140.5h0M648.8 143.0h0M649.6 143.9h0M650.5 144.8h0M651.4 145.6h0M652.3 147.2h0M653.2 147.5h0M654.0 148.2h0M654.9 148.8h0M655.8 149.5h0M656.7 150.7h0M657.6 152.4h0M658.5 153.5h0M659.3 153.5h0M660.2 153.8h0M661.1 158.7h0M662.0 158.8h0M662.9 158.2h0M663.8 159.2h0M664.6 160.9h0M665.5 160.4h0M666.4 163.3h0M667.3 164.7h0M668.2 161.7h0M669.0 163.8h0M669.9 167.3h0M670.8 167.6h0M671.7 168.2h0M672.6 168.5h0M673.5 172.8h0M674.3 172.6h0M675.2 169.6h0M676.1 175.4h0M677.0 172.6h0M677.9 175.4h0M678.7 175.2h0M679.6 172.2h0M680.5 180.2h0M681.4 176.5h0M682.3 177.6h0M683.2 182.9h0M684.0 181.6h0M684.9 182.3h0M685.8 182.2h0M686.7 183.6h0M687.6 184.7h0M688.5 192.8h0M689.3 188.3h0M690.2 189.7h0M691.1 192.0h0M692.0 189.7h0M692.9 187.3h0M693.7 187.6h0M694.6 194.7h0M695.5 189.6h0M696.4 192.3h0M697.3 191.3h0M698.2 196.7h0M699.0 194.5h0M699.9 196.4h0M700.8 204.9h0M701.7 202.2h0M702.6 197.2h0M703.4 201.4h0M704.3 204.4h0M705.2 198.0h0M706.1 199.2h0M707.0 206.8h0M119.1 47.8h0M121.6 48.5h0M124.2 49.3h0M126.7 50.1h0M129.3 50.9h0M132.4 51.9h0M135.9 53.0h0M142.1 54.9h0M147.2 56.5h0M151.8 57.9h0M157.9 59.8h0M709.2 230.6h0M711.0 231.1h0M133.4 44.0h0M135.2 44.5h0M136.9 45.0h0M138.7 45.6h0M146.7 48.1h0M130.3 43.0h0M124.2 41.1h0M169.8 55.2h0M173.5 56.4h0M706.1 221.4h0M126.7 37.1h0M133.9 39.3h0M135.7 39.8h0M137.4 40.4h0M156.4 46.3h0M164.1 48.7h0M140.5 37.9h0M142.6 35.9h0M140.5 33.1h0M145.1 32.7h0M146.7 39.2h0M150.0 38.5h0M153.8 37.7h0M149.7 36.6h0M152.8 36.9h0M161.0 37.2h0M164.0 36.1h0M158.0 40.2h0M160.0 41.2h0M164.3 48.6h0M186.4 41.8h0" stroke="#00ff00" stroke-width="4.0" stroke-linecap="round" fill="none"/>
<path d="M260.6 72.4h0M261.5 75.4h0M262.4 73.0h0M263.3 73.3h0M264.2 68.0h0M265.0 71.6h0M265.9 76.7h0M266.8 72.2h0M267.7 69.1h0M268.6 74.9h0M269.4 71.2h0M270.3 75.5h0M271.2 75.7h0M272.1 73.8h0M273.0 74.1h0M273.9 76.5h0M274.7 71.2h0M275.6 68.9h0M276.5 80.0h0M277.4 77.6h0M278.3 68.6h0M279.1 72.6h0M280.0 74.5h0M280.9 74.7h0M281.8 70.8h0M282.7 68.9h0M283.6 74.0h0M284.4 79.8h0M285.3 80.1h0M286.2 78.2h0M287.1 73.7h0M288.0 80.9h0M288.9 75.6h0M289.7 73.2h0M290.6 71.3h0M291.5 75.0h0M292.4 72.9h0M293.3 73.2h0M294.1 72.4h0M295.0 73.7h0M295.9 76.4h0M296.8 76.7h0M297.7 70.1h0M298.6 70.4h0M299.4 71.4h0M300.3 77.8h0M301.2 74.6h0M302.1 83.1h0M303.0 72.5h0M303.8 69.4h0M304.7 73.9h0M305.6 71.2h0M306.5 75.3h0M307.4 70.5h0M308.3 74.2h0M309.1 74.4h0M310.0 71.9h0M310.9 76.7h0M311.8 71.8h0M312.7 74.8h0M313.5 68.8h0M314.4 70.5h0M315.3 71.3h0M316.2 71.0h0M317.1 70.4h0M318.0 68.6h0M318.8 71.4h0M319.7 69.1h0M320.6 71.0h0M321.5 70.4h0M322.4 69.5h0M323.3 71.8h0M324.1 69.7h0M325.0 68.0h0M325.9 73.1h0M326.8 70.9h0M327.7 68.0h0M328.5 67.4h0M329.4 70.0h0M330.3 65.2h0M331.2 65.4h0M332.1 70.8h0M333.0 69.0h0M333.8 67.1h0M334.7 67.6h0M335.6 66.8h0M336.5 68.6h0M337.4 68.4h0M338.2 65.9h0M339.1 70.7h0M340.0 66.6h0M340.9 66.7h0M341.8 68.3h0M342.7 65.4h0M343.5 68.8h0M344.4 68.0h0M345.3 68.2h0M346.2 67.8h0M347.1 66.9h0M348.0 65.5h0M348.8 66.3h0M349.7 67.3h0M350.6 66.6h0M351.5 66.4h0M352.4 64.3h0M353.2 65.8h0M354.1 64.2h0M355.0 65.0h0M355.9 65.4h0M356.8 64.9h0M357.7 66.3h0M358.5 63.7h0M359.4 64.9h0M360.3 64.1h0M361.2 63.4h0M362.1 62.4h0M362.9 62.6h0M363.8 64.6h0M364.7 62.9h0M365.6 63.4h0M366.5 63.2h0M367.4 62.2h0M368.2 62.8h0M369.1 61.3h0M370.0 63.2h0M370.9 62.2h0M371.8 62.5h0M372.7 63.1h0M373.5 61.9h0M374.4 62.8h0M375.3 61.1h0M376.2 62.8h0M377.1 62.9h0M377.9 63.6h0M378.8 61.5h0M379.7 60.9h0M380.6 62.1h0M381.5 61.8h0M382.4 61.1h0M383.2 60.8h0M384.1 61.7h0M385.0 61.5h0M385.9 60.6h0M386.8 60.4h0M387.6 60.5h0M388.5 60.1h0M389.4 60.4h0M390.3 59.1h0M391.2 60.0h0M392.1 59.2h0M392.9 59.5h0M393.8 60.4h0M394.7 59.3h0M395.6 58.7h0M396.5 60.3h0M397.4 59.5h0M398.2 59.1h0M399.1 57.9h0M400.0 58.9h0M400.9 58.7h0M401.8 58.1h0M402.6 57.6h0M403.5 57.8h0M404.4 58.1h0M405.3 58.6h0M406.2 58.1h0M407.1 58.0h0M407.9 57.4h0M408.8 56.8h0M409.7 58.2h0M410.6 58.0h0M411.5 57.3h0M412.3 57.1h0M413.2 56.8h0M414.1 57.1h0M415.0 56.5h0M415.9 57.2h0M416.8 56.7h0M417.6 56.4h0M418.5 56.5h0M419.4 56.0h0M420.3 55.8h0M421.2 55.2h0M422.1 55.0h0M422.9 55.3h0M423.8 55.2h0M424.7 55.7h0M425.6 55.3h0M426.5 55.4h0M427.3 54.8h0M428.2 55.2h0M429.1 55.0h0M430.0 54.8h0M430.9 54.9h0M431.8 54.4h0M432.6 54.8h0M433.5 54.2h0M434.4 54.4h0M435.3 53.8h0M436.2 54.1h0M437.0 54.2h0M437.9 54.2h0M438.8 54.0h0M439.7 53.7h0M440.6 53.3h0M441.5 53.3h0M442.3 53.3h0M443.2 53.0h0M444.1 53.2h0M445.0 53.1h0M445.9 52.3h0M446.8 53.0h0M447.6 52.7h0M448.5 52.3h0M449.4 52.5h0M450.3 52.4h0M451.2 52.3h0M452.0 52.2h0M452.9 51.8h0M453.8 52.0h0M454.7 51.6h0M455.6 51.8h0M456.5 51.6h0M457.3 51.6h0M458.2 51.4h0M459.1 51.4h0M460.0 51.2h0M460.9 51.4h0M461.7 51.0h0M462.6 51.0h0M463.5 50.8h0M464.4 50.9h0M465.3 50.7h0M466.2 51.1h0M467.0 50.8h0M467.9 50.6h0M468.8 50.7h0M469.7 50.8h0M470.6 50.7h0M471.5 50.4h0M472.3 50.7h0M473.2 50.6h0M474.1 50.6h0M475.0 50.1h0M475.9 50.5h0M476.7 50.6h0M477.6 50.4h0M478.5 50.5h0M479.4 50.3h0M480.3 50.6h0M481.2 50.5h0M482.0 50.4h0M482.9 50.4h0M483.8 50.4h0M484.7 50.2h0M485.6 50.2h0M486.4 50.2h0M487.3 50.2h0M488.2 50.2h0M489.1 50.2h0M490.0 50.1h0M490.9 50.1h0M491.7 50.4h0M492.6 50.0h0M493.5 50.0h0M494.4 50.3h0M495.3 50.0h0M496.1 50.1h0M497.0 50.1h0M497.9 49.9h0M498.8 50.2h0M499.7 49.9h0M500.6 50.1h0M501.4 49.8h0M502.3 50.2h0M503.2 50.0h0M504.1 49.7h0M505.0 49.8h0M505.9 49.9h0M506.7 49.7h0M507.6 49.8h0M508.5 49.7h0M509.4 49.9h0M510.3 49.8h0M511.1 49.8h0M512.0 49.8h0M512.9 49.8h0M513.8 49.7h0M514.7 49.9h0M515.6 49.8h0M516.4 49.9h0M517.3 49.8h0M518.2 49.8h0M519.1 50.1h0M520.0 50.0h0M520.8 50.1h0M521.7 50.0h0M522.6 50.1h0M523.5 49.9h0M524.4 50.2h0M525.3 50.2h0M526.1 50.3h0M527.0 50.3h0M527.9 50.3h0M528.8 50.3h0M529.7 50.5h0M530.6 50.4h0M531.4 50.6h0M532.3 50.7h0M533.2 50.7h0M534.1 50.8h0M535.0 51.0h0M535.8 50.9h0M536.7 50.9h0M537.6 51.1h0M538.5 51.1h0M539.4 51.3h0M540.3 51.3h0M541.1 51.3h0M542.0 51.4h0M542.9 51.5h0M543.8 51.5h0M544.7 51.6h0M545.5 51.7h0M546.4 51.8h0M547.3 51.9h0M548.2 51.9h0M549.1 52.0h0M550.0 52.2h0M550.8 52.2h0M551.7 52.2h0M552.6 52.3h0M553.5 52.5h0M554.4 52.6h0M555.3 52.7h0M556.1 52.7h0M557.0 52.8h0M557.9 53.0h0M558.8 53.1h0M559.7 53.3h0M560.5 53.4h0M561.4 53.5h0M562.3 53.7h0M563.2 53.8h0M564.1 53.9h0M565.0 54.1h0M565.8 54.2h0M566.7 54.4h0M567.6 54.5h0M568.5 54.6h0M569.4 54.7h0M570.2 55.0h0M571.1 55.0h0M572.0 55.3h0M572.9 55.5h0M573.8 55.6h0M574.7 55.8h0M575.5 55.8h0M576.4 56.0h0M577.3 56.2h0M578.2 56.5h0M579.1 56.6h0M580.0 56.8h0M580.8 57.0h0M581.7 57.1h0M582.6 57.4h0M583.5 57.6h0M584.4 57.8h0M585.2 57.9h0M586.1 58.2h0M587.0 58.5h0M587.9 58.6h0M588.8 58.8h0M589.7 59.0h0M590.5 59.1h0M591.4 59.4h0M592.3 59.7h0M593.2 59.9h0M594.1 60.2h0M594.9 60.4h0M595.8 60.6h0M596.7 60.8h0M597.6 61.1h0M598.5 61.4h0M599.4 61.6h0M600.2 61.9h0M601.1 62.2h0M602.0 62.5h0M602.9 62.7h0M603.8 63.0h0M604.7 63.2h0M605.5 63.5h0M606.4 63.8h0M607.3 64.0h0M608.2 64.3h0M609.1 64.7h0M609.9 64.9h0M610.8 65.3h0M611.7 65.5h0M612.6 65.9h0M613.5 66.1h0M614.4 66.5h0M615.2 66.8h0M616.1 67.1h0M617.0 67.4h0M617.9 67.8h0M618.8 68.1h0M619.6 68.4h0M620.5 68.7h0M621.4 69.1h0M622.3 69.4h0M623.2 69.8h0M624.1 70.1h0M624.9 70.4h0M625.8 70.9h0M626.7 71.2h0M627.6 71.5h0M628.5 71.9h0M629.4 72.3h0M630.2 72.6h0M631.1 73.0h0M632.0 73.4h0M632.9 73.7h0M633.8 74.0h0M634.6 74.4h0M635.5 74.8h0M636.4 75.2h0M637.3 75.6h0M638.2 76.0h0M639.1 76.3h0M639.9 76.8h0M640.8 77.2h0M641.7 77.6h0M642.6 78.0h0M643.5 78.5h0M644.3 79.0h0M645.2 79.4h0M646.1 79.9h0M647.0 80.3h0M647.9 80.8h0M648.8 81.3h0M649.6 81.9h0M650.5 82.5h0M651.4 82.9h0M652.3 83.5h0M653.2 84.0h0M654.0 84.7h0M654.9 85.0h0M655.8 85.7h0M656.7 86.2h0M657.6 86.8h0M658.5 87.4h0M659.3 88.0h0M660.2 88.6h0M661.1 89.1h0M662.0 89.8h0M662.9 90.4h0M663.8 91.0h0M664.6 91.7h0M665.5 92.3h0M666.4 92.9h0M667.3 93.5h0M668.2 94.2h0M669.0 94.9h0M669.9 95.4h0M670.8 96.1h0M671.7 96.7h0M672.6 97.3h0M673.5 97.8h0M674.3 98.6h0M675.2 99.3h0M676.1 99.9h0M677.0 100.5h0M677.9 101.2h0M678.7 101.8h0M679.6 102.5h0M680.5 103.3h0M681.4 103.9h0M682.3 104.5h0M683.2 105.2h0M684.0 106.1h0M684.9 106.5h0M685.8 107.3h0M686.7 107.9h0M687.6 108.5h0M688.5 109.3h0M689.3 110.2h0M690.2 110.5h0M691.1 111.3h0M692.0 112.3h0M692.9 112.6h0M693.7 113.7h0M694.6 114.2h0M695.5 115.1h0M696.4 115.7h0M697.3 116.4h0M698.2 117.3h0M699.0 117.7h0M699.9 118.6h0M700.8 119.6h0M701.7 120.2h0M702.6 121.0h0M703.4 121.8h0M704.3 122.6h0M705.2 123.5h0M706.1 124.1h0M707.0 124.8h0M707.9 125.8h0M708.7 126.8h0M709.6 127.6h0M710.5 128.1h0M711.4 128.7h0M712.3 129.8h0M713.2 130.8h0M714.0 131.6h0M714.9 132.3h0M715.8 133.1h0M716.7 133.8h0M717.6 134.8h0M718.4 135.8h0M719.3 136.6h0M720.2 137.4h0M721.1 137.9h0M722.0 139.3h0M722.9 139.9h0M723.7 141.1h0M724.6 141.5h0M725.5 142.6h0M726.4 143.7h0M727.3 144.8h0M728.1 145.0h0M729.0 146.7h0M729.9 146.9h0M730.8 147.9h0M731.7 149.0h0M732.6 149.8h0M733.4 150.7h0M734.3 151.6h0M735.2 152.7h0M736.1 153.1h0M737.0 154.7h0M737.9 155.0h0M738.7 155.6h0M739.6 156.4h0M740.5 157.5h0M741.4 158.3h0M742.3 159.2h0M743.1 160.1h0M744.0 161.5h0M744.9 161.5h0M745.8 163.4h0M746.7 162.9h0M747.6 164.2h0M748.4 165.7h0M749.3 165.3h0M750.2 167.3h0M751.1 167.4h0M752.0 168.2h0M752.8 169.7h0M753.7 170.1h0M754.6 171.1h0M755.5 171.0h0M756.4 173.2h0M757.3 172.6h0M758.1 173.6h0M759.0 174.7h0M759.9 175.5h0M760.8 176.3h0M761.7 177.5h0M762.6 178.5h0M763.4 177.9h0M764.3 178.3h0M765.2 180.4h0M766.1 181.1h0M767.0 181.8h0M767.8 180.9h0M768.7 183.3h0M769.6 183.1h0M770.5 185.8h0M771.4 185.6h0M772.3 186.8h0M773.1 186.9h0M774.0 186.8h0M774.9 188.2h0M775.8 189.2h0M776.7 189.1h0M777.5 190.5h0M778.4 193.3h0M779.3 192.6h0M780.2 191.3h0M781.1 192.8h0M782.0 193.7h0M782.8 194.3h0M783.7 193.4h0M784.6 197.3h0M785.5 198.4h0M786.4 197.3h0M787.3 198.1h0M788.1 199.8h0M789.0 199.1h0M789.9 200.5h0M790.8 201.2h0M791.7 201.4h0M792.5 203.3h0M793.4 206.0h0M794.3 204.1h0M795.2 204.1h0M796.1 206.7h0M797.0 208.0h0M797.8 207.5h0M798.7 206.5h0M799.6 211.0h0M800.5 213.6h0M801.4 214.7h0M802.2 212.9h0M803.1 216.1h0M804.0 216.4h0M804.9 219.4h0M805.8 219.3h0M806.7 216.9h0M807.5 221.0h0M808.4 223.5h0M809.3 223.8h0M810.2 228.9h0M811.1 230.7h0M812.0 231.9h0M812.8 227.7h0M813.7 231.6h0M814.6 234.7h0M815.5 235.0h0M816.4 242.4h0M817.2 239.3h0M818.1 239.6h0M819.0 248.1h0M819.9 243.5h0M820.8 240.4h0M823.4 246.8h0M824.3 249.7h0M140.3 54.3h0M155.1 58.9h0M170.7 63.7h0M172.1 64.1h0M183.5 67.7h0M194.1 70.9h0M203.2 73.8h0M205.0 74.3h0M206.7 74.8h0M208.5 75.4h0M210.2 75.9h0M212.0 76.5h0M213.8 77.0h0M219.0 78.7h0M222.8 79.8h0M224.6 80.4h0M226.4 80.9h0M233.2 83.1h0M238.0 84.5h0M239.8 85.1h0M248.7 87.9h0M250.5 88.4h0M258.8 91.0h0M262.2 92.0h0M268.3 93.9h0M272.1 95.1h0M224.1 72.0h0M230.3 73.9h0M232.1 74.5h0M241.0 77.2h0M242.8 77.8h0M244.5 78.3h0M246.3 78.9h0M248.0 79.4h0M249.8 80.0h0M251.6 80.5h0M259.3 82.9h0M261.1 83.5h0M262.8 84.0h0M264.6 84.5h0M276.5 88.2h0M282.3 90.0h0M225.0 67.5h0M231.6 69.5h0M253.4 76.3h0M261.4 78.7h0M271.1 81.8h0M275.2 83.0h0M277.2 83.6h0M258.3 74.4h0M288.0 83.6h0M255.2 70.8h0M264.9 73.8h0M820.4 251.5h0M823.4 243.5h0M819.6 245.8h0" stroke="#ff0000" stroke-width="4.0" stroke-linecap="round" fill="none"/>
</g>
<text x="175.31" y="286.70" font-family="Liberation Serif" font-weight="bold" font-size="34.3">10</text><rect x="210.91" y="267.00" width="12.9" height="2.5" fill="#000"/><text x="224.51" y="273.90" font-family="Liberation Serif" font-weight="bold" font-size="25.2">3</text>
<text x="351.74" y="286.70" font-family="Liberation Serif" font-weight="bold" font-size="34.3">10</text><rect x="387.34" y="267.00" width="12.9" height="2.5" fill="#000"/><text x="400.94" y="273.90" font-family="Liberation Serif" font-weight="bold" font-size="25.2">1</text>
<text x="535.81" y="286.70" font-family="Liberation Serif" font-weight="bold" font-size="34.3">10</text><text x="569.41" y="273.90" font-family="Liberation Serif" font-weight="bold" font-size="25.2">1</text>
<text x="712.24" y="286.70" font-family="Liberation Serif" font-weight="bold" font-size="34.3">10</text><text x="745.84" y="273.90" font-family="Liberation Serif" font-weight="bold" font-size="25.2">3</text>
<text x="52.60" y="73.71" font-family="Liberation Serif" font-weight="bold" font-size="34.3">10</text><rect x="88.20" y="54.01" width="12.9" height="2.5" fill="#000"/><text x="101.80" y="60.81" font-family="Liberation Serif" font-weight="bold" font-size="25.2">2</text>
<text x="52.60" y="155.69" font-family="Liberation Serif" font-weight="bold" font-size="34.3">10</text><rect x="88.20" y="135.99" width="12.9" height="2.5" fill="#000"/><text x="101.80" y="142.79" font-family="Liberation Serif" font-weight="bold" font-size="25.2">5</text>
<text x="52.60" y="237.67" font-family="Liberation Serif" font-weight="bold" font-size="34.3">10</text><rect x="88.20" y="217.97" width="12.9" height="2.5" fill="#000"/><text x="101.80" y="224.77" font-family="Liberation Serif" font-weight="bold" font-size="25.2">8</text>
<clipPath id="ca"><rect x="0" y="0" width="48.3" height="40"/></clipPath>
<g clip-path="url(#ca)"><text transform="translate(22.75 33.7) scale(1.0 1.015)" font-family="Liberation Sans" font-weight="bold" font-size="50">a</text></g>
<text transform="translate(368.6 324.7) scale(1.06 1)" font-family="Liberation Serif" font-weight="bold" font-style="italic" font-size="33">E</text>
<text x="390.6" y="329.7" font-family="Liberation Serif" font-weight="bold" font-size="24">col</text>
<text x="429.2" y="330.5" font-family="Liberation Serif" font-weight="bold" font-size="44">/</text>
<text x="449.5" y="324.4" font-family="Liberation Serif" font-weight="bold" font-size="33">mK</text>
<text x="512" y="324.4" font-family="Liberation Serif" font-weight="bold" font-size="33">x</text>
<text x="536" y="324.4" font-family="Liberation Serif" font-weight="bold" font-style="italic" font-size="33">k</text>
<text x="554.2" y="329.4" font-family="Liberation Serif" font-weight="bold" font-style="italic" font-size="23">B</text>
<g transform="translate(48.8 227.5) rotate(-90)"><text x="0" y="0" font-family="Liberation Serif" font-weight="bold" font-size="33">P</text><text x="20.9" y="-1.3" font-family="Liberation Serif" font-size="29">(</text><text transform="translate(31.5 0) scale(1.08 1)" font-family="Liberation Serif" font-weight="bold" font-style="italic" font-size="33">E</text><text x="54.2" y="5.3" font-family="Liberation Serif" font-weight="bold" font-size="24">col</text><text x="93.5" y="0" font-family="Liberation Serif" font-weight="bold" font-size="33">,</text><text transform="translate(110 0) scale(1.08 1)" font-family="Liberation Serif" font-weight="bold" font-style="italic" font-size="33">E</text><text x="133.5" y="-13.3" font-family="Liberation Serif" font-weight="bold" font-style="italic" font-size="26">S</text><text x="133" y="8" font-family="Liberation Serif" font-weight="bold" font-size="26">1</text><text x="149" y="-1.3" font-family="Liberation Serif" font-size="29">)</text></g></svg>
</body></html>
